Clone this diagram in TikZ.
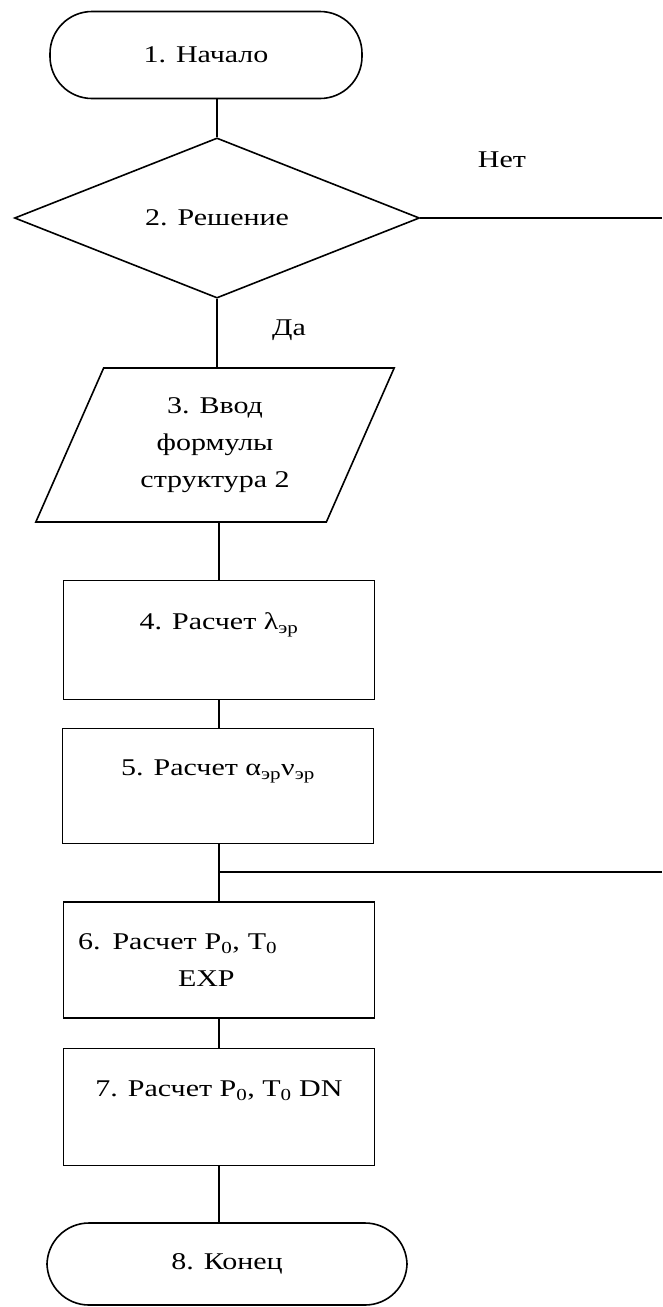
\documentclass[tikz,border=0pt]{standalone}
\usepackage{fontspec}
\setmainfont[FakeStretch=1.25]{Liberation Serif}
\usetikzlibrary{shapes.geometric}

\begin{document}
\begin{tikzpicture}[
    x=1pt, y=-1pt,
    line width=1.6pt,
    font=\fontsize{24}{37}\selectfont,
    term/.style={rectangle, draw, rounded corners=42pt, minimum height=87pt},
    cond/.style={diamond, draw, minimum width=405pt, minimum height=145pt, inner sep=0pt},
    io/.style={trapezium, draw, trapezium left angle=65, trapezium right angle=115,
        trapezium stretches=true, minimum width=359pt, minimum height=154pt, align=center},
    proc/.style={rectangle, draw, minimum width=311pt, align=center}
]
    \useasboundingbox (0,0) rectangle (662,1307);

    % Блоки
    \node[term, minimum width=312pt] (start) at (206,55) {1. Начало};
    \node[cond] (dec) at (217,218) {2. Решение};
    \node[io] (in) at (215,445) {3. Ввод\\формулы\\структура 2};
    \node[proc, minimum height=119pt] (calc4) at (219,640) {4. Расчет λ\textsubscript{эр}\\ \mbox{}};
    \node[proc, minimum height=115pt] (calc5) at (218,786) {5. Расчет α\textsubscript{эр}ν\textsubscript{эр}\\ \mbox{}};
    \node[proc, minimum height=116pt, text width=282pt, align=left] (calc6) at (219,960)
        {6. Расчет P\textsubscript{0}, T\textsubscript{0}\\\hspace*{100pt}EXP};
    \node[proc, minimum height=117pt] (calc7) at (219,1107) {7. Расчет P\textsubscript{0}, T\textsubscript{0} DN\\ \mbox{}};
    \node[term, minimum width=360pt, minimum height=82pt] (finish) at (227,1264) {8. Конец};

    % Подписи
    \node (no) at (502,160) {Нет};
    \node (yes) at (289,330) {Да};

    \coordinate (r1) at (662,218);
    \coordinate (r2) at (662,872);

    % Линии
    \draw (start.south -| dec.north) -- (dec.north);
    \draw (dec) -- (r1);
    \draw (dec.south) -- (dec.south |- in.north);
    \draw (in.south -| calc4.north) -- (calc4.north);
    \draw (calc4.south) -- (calc4.south |- calc5.north);
    \draw (calc6.north |- calc5.south) -- (calc6.north);
    \draw (calc6.north |- r2) -- (r2);
    \draw (calc6.south) -- (calc6.south |- calc7.north);
    \draw (calc7.south) -- (calc7.south |- finish.north);

\end{tikzpicture}
\end{document}
